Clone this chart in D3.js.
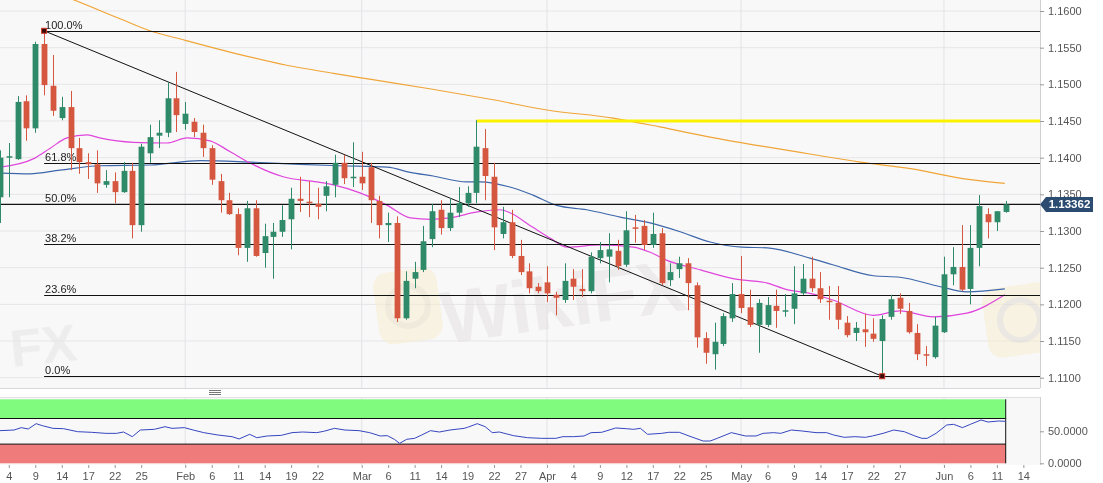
<!DOCTYPE html>
<html><head><meta charset="utf-8">
<script src="https://cdn.jsdelivr.net/npm/d3@7/dist/d3.min.js"></script>
<style>
body{margin:0;background:#fff;}
svg{display:block;font-family:"Liberation Sans",Arial,sans-serif;}
</style>
</head><body>
<svg id="chart" width="1103" height="483"></svg>
<script>
// ---- Data (EUR/USD daily, Jan 3 – Jun 12) ----
const open  = [1.1346,1.1400,1.1398,1.1477,1.1440,1.1555,1.1498,1.1454,1.1469,1.1413,1.1394,1.1391,1.1363,1.1368,1.1353,1.1382,1.1308,1.1406,1.1430,1.1434,1.1481,1.1446,1.1449,1.1434,1.1413,1.1368,1.1342,1.1323,1.1277,1.1331,1.1270,1.1292,1.1299,1.1316,1.1344,1.1340,1.1337,1.1348,1.1363,1.1393,1.1372,1.1374,1.1387,1.1341,1.1308,1.1311,1.1181,1.1235,1.1247,1.1289,1.1329,1.1304,1.1325,1.1338,1.1352,1.1413,1.1374,1.1296,1.1312,1.1266,1.1245,1.1224,1.1230,1.1213,1.1206,1.1235,1.1221,1.1218,1.1263,1.1265,1.1273,1.1254,1.1305,1.1307,1.1281,1.1297,1.1233,1.1248,1.1256,1.1226,1.1154,1.1132,1.1146,1.1181,1.1214,1.1196,1.1172,1.1172,1.1198,1.1191,1.1194,1.1215,1.1235,1.1222,1.1205,1.1202,1.1175,1.1161,1.1166,1.1160,1.1150,1.1183,1.1209,1.1191,1.1161,1.1132,1.1128,1.1162,1.1241,1.1251,1.1221,1.1277,1.1323,1.1312,1.1326];
const high  = [1.1410,1.1420,1.1484,1.1485,1.1558,1.1573,1.1540,1.1483,1.1491,1.1427,1.1406,1.1410,1.1383,1.1380,1.1394,1.1393,1.1419,1.1445,1.1451,1.1503,1.1517,1.1476,1.1454,1.1445,1.1417,1.1378,1.1352,1.1331,1.1341,1.1342,1.1310,1.1311,1.1335,1.1359,1.1374,1.1368,1.1359,1.1368,1.1404,1.1404,1.1421,1.1408,1.1393,1.1348,1.1325,1.1320,1.1245,1.1258,1.1307,1.1337,1.1342,1.1345,1.1360,1.1361,1.1451,1.1439,1.1393,1.1333,1.1329,1.1288,1.1256,1.1229,1.1252,1.1217,1.1256,1.1248,1.1248,1.1271,1.1285,1.1297,1.1288,1.1327,1.1322,1.1315,1.1325,1.1304,1.1256,1.1265,1.1263,1.1230,1.1162,1.1175,1.1188,1.1229,1.1266,1.1220,1.1207,1.1210,1.1220,1.1214,1.1252,1.1255,1.1265,1.1244,1.1225,1.1225,1.1184,1.1176,1.1187,1.1181,1.1185,1.1213,1.1215,1.1202,1.1173,1.1143,1.1183,1.1265,1.1278,1.1308,1.1308,1.1349,1.1331,1.1327,1.1341];
const low   = [1.1311,1.1346,1.1397,1.1423,1.1434,1.1485,1.1457,1.1451,1.1383,1.1378,1.1371,1.1352,1.1359,1.1338,1.1352,1.1290,1.1299,1.1393,1.1413,1.1428,1.1435,1.1438,1.1428,1.1401,1.1363,1.1325,1.1322,1.1267,1.1258,1.1265,1.1250,1.1235,1.1292,1.1275,1.1326,1.1319,1.1316,1.1327,1.1346,1.1364,1.1360,1.1356,1.1311,1.1290,1.1285,1.1176,1.1179,1.1222,1.1244,1.1278,1.1295,1.1300,1.1319,1.1333,1.1338,1.1342,1.1274,1.1290,1.1263,1.1240,1.1215,1.1215,1.1203,1.1185,1.1202,1.1206,1.1210,1.1215,1.1256,1.1230,1.1247,1.1251,1.1284,1.1274,1.1277,1.1226,1.1225,1.1236,1.1192,1.1141,1.1119,1.1111,1.1143,1.1176,1.1188,1.1169,1.1134,1.1169,1.1168,1.1183,1.1173,1.1213,1.1217,1.1202,1.1179,1.1166,1.1155,1.1150,1.1142,1.1149,1.1102,1.1179,1.1187,1.1160,1.1124,1.1116,1.1126,1.1161,1.1226,1.1218,1.1200,1.1252,1.1290,1.1300,1.1325];
const close = [1.1400,1.1402,1.1476,1.1440,1.1555,1.1499,1.1464,1.1469,1.1413,1.1394,1.1391,1.1365,1.1368,1.1353,1.1382,1.1308,1.1415,1.1428,1.1434,1.1481,1.1458,1.1460,1.1435,1.1413,1.1370,1.1342,1.1323,1.1277,1.1331,1.1266,1.1293,1.1299,1.1315,1.1344,1.1341,1.1338,1.1333,1.1361,1.1393,1.1372,1.1374,1.1365,1.1342,1.1308,1.1311,1.1181,1.1232,1.1244,1.1286,1.1327,1.1304,1.1325,1.1338,1.1352,1.1415,1.1375,1.1305,1.1312,1.1266,1.1244,1.1222,1.1218,1.1215,1.1209,1.1232,1.1224,1.1218,1.1265,1.1274,1.1275,1.1252,1.1301,1.1304,1.1281,1.1296,1.1229,1.1244,1.1256,1.1229,1.1155,1.1134,1.1149,1.1184,1.1214,1.1195,1.1172,1.1202,1.1199,1.1191,1.1192,1.1215,1.1235,1.1222,1.1207,1.1203,1.1179,1.1158,1.1168,1.1162,1.1153,1.1180,1.1207,1.1194,1.1162,1.1132,1.1130,1.1171,1.1241,1.1251,1.1220,1.1277,1.1334,1.1312,1.1327,1.13362];

// moving averages: [bar index, price]
const maOrange = [[5,1.1631],[8.4,1.1615],[13.9,1.1588],[17,1.1573],[21,1.1560],[26.4,1.1543],[32.5,1.1526],[37.8,1.1515],[41.9,1.1507],[48.7,1.1494],[55.9,1.1479],[62,1.1465],[69.5,1.1454],[74.8,1.1442],[80.5,1.1428],[86.2,1.1416],[91.8,1.1405],[97.5,1.1394],[103.2,1.1385],[110,1.1370],[113.9,1.1365]];
const maBlue = [[0,1.1379],[3.4,1.1378],[6.8,1.1383],[11.3,1.1389],[17,1.1390],[22.7,1.1396],[28.3,1.1394],[34,1.1391],[38.5,1.1389],[43.9,1.1387],[46.5,1.1380],[49.1,1.1375],[52.9,1.1367],[54.4,1.1367],[57.8,1.1360],[60.4,1.1349],[63.1,1.1335],[66.5,1.1329],[70.3,1.1319],[73.7,1.1311],[77.1,1.1299],[80.5,1.1285],[84.1,1.1278],[87,1.1277],[91.8,1.1263],[94.4,1.1254],[99,1.1239],[102,1.1237],[106.6,1.1224],[109.6,1.1217],[113.9,1.1221]];
const maMagenta = [[0,1.1387],[3.7,1.1398],[5.7,1.1413],[7.6,1.1427],[9.9,1.1431],[11.3,1.1427],[15.1,1.1421],[18.9,1.1420],[21.2,1.1427],[23.8,1.1423],[26.1,1.1408],[28.3,1.1393],[32.1,1.1374],[35.9,1.1367],[37.8,1.1363],[40.8,1.1352],[43.9,1.1335],[46.5,1.1318],[48.8,1.1316],[51,1.1318],[54.1,1.1326],[56.7,1.1329],[57.8,1.1325],[60.4,1.1305],[62.4,1.1290],[64.3,1.1278],[68,1.1281],[71.8,1.1278],[73.7,1.1271],[75.6,1.1260],[79.4,1.1247],[83.1,1.1235],[87,1.1229],[89.2,1.1220],[91.8,1.1215],[94.4,1.1206],[99,1.1185],[102,1.1191],[105.8,1.1183],[109.6,1.1188],[113.9,1.1213]];

// oscillator (lower panel): [bar index, value]
const rsi = [[0,51.0],[1.6,52.0],[2.4,55.7],[3.2,53.6],[4.1,61.9],[4.8,58.8],[6.0,54.6],[7.2,54.1],[8.8,49.4],[10.4,48.4],[12.0,46.8],[13.2,46.8],[14.0,48.9],[15.0,41.6],[15.9,52.0],[17.5,53.1],[18.7,57.2],[19.5,54.6],[20.9,55.7],[21.9,52.0],[23.1,47.9],[24.7,44.2],[26.3,41.6],[27.1,38.0],[28.3,45.3],[29.1,40.0],[30.3,42.7],[31.9,43.7],[33.1,47.9],[34.3,48.9],[35.9,47.9],[36.7,50.0],[37.9,54.6],[39.1,52.0],[40.7,51.0],[41.9,47.9],[43.1,42.7],[43.9,43.2],[44.7,37.5],[45.3,31.2],[46.1,37.5],[47.0,39.0],[47.8,44.2],[48.8,51.0],[49.8,48.9],[51.0,52.0],[52.6,54.6],[53.0,56.2],[54.1,61.9],[55.0,57.2],[55.8,47.9],[56.6,48.9],[58.2,43.2],[59.8,40.0],[61.4,39.0],[63.0,39.0],[63.8,41.6],[65.0,41.6],[66.2,42.7],[67.0,47.9],[68.2,48.4],[68.7,50.5],[69.8,55.2],[71.0,54.1],[71.8,53.1],[72.6,54.6],[73.4,45.3],[75.0,46.8],[75.8,48.4],[77.0,48.4],[78.1,42.7],[79.7,34.8],[80.5,34.8],[81.3,39.0],[82.9,47.9],[84.5,42.7],[85.7,42.7],[86.5,46.8],[87.7,47.9],[88.5,46.8],[89.7,52.0],[90.9,50.5],[92.5,47.9],[93.7,47.9],[94.5,44.2],[95.7,40.6],[96.9,41.6],[98.1,40.6],[98.9,42.7],[100.1,46.8],[101.3,52.0],[102.5,49.4],[103.7,42.7],[104.5,39.0],[105.1,39.0],[106.1,46.8],[107.3,59.8],[108.1,60.9],[109.1,55.7],[110.0,60.9],[111.2,67.7],[112.0,64.5],[113.2,66.1],[114.0,65.6]];

// Fibonacci retracement anchors
const fibHigh = {i:5, p:1.1573};
const fibLow  = {i:100, p:1.1102};
const fibLevels = [1.0, 0.618, 0.5, 0.382, 0.236, 0.0];
const fibLabels = ["100.0%","61.8%","50.0%","38.2%","23.6%","0.0%"];
const resistance = {i:54, p:1.1450};
const lastPrice = 1.13362;

// axis ticks
const priceTicks = [1.11,1.115,1.12,1.125,1.13,1.135,1.14,1.145,1.15,1.155,1.16];
const rsiTicks = [0,50];
const dateTickIdx = [1,4,7,10,13,16,21,24,27,30,33,36,41,44,47,50,53,56,59,62,65,68,71,74,77,80,84,87,90,93,96,99,102,107,110,113,116];
const dateTickLabels = ["4","9","14","17","22","25","Feb","6","11","14","19","22","Mar","6","11","14","19","22","27","Apr","4","9","12","17","22","25","May","6","9","14","17","22","27","Jun","6","11","14"];
const monthIdx = [21,41,62,84,107];

// ---- Layout ----
const W = 1103, plotR = 1040;
const mainTop = 0, mainBot = 388;
const subTop = 397, subBot = 465;

const svg = d3.select("#chart");
const x = d3.scaleLinear().domain([0, 118]).range([0, 1041]);
const y = d3.scaleLinear().domain([1.11, 1.16]).range([377.7, 11]);
const yr = d3.scaleLinear().domain([0, 100]).range([463.3, 399.3]);

const COL_UP = "#2f8a69", COL_DN = "#d6573f";

// backgrounds
svg.append("rect").attr("x",0).attr("y",0).attr("width",W).attr("height",483).attr("fill","#fff");
svg.append("rect").attr("x",0).attr("y",mainTop).attr("width",plotR).attr("height",mainBot-mainTop).attr("fill","#f8f8f9");
svg.append("rect").attr("x",0).attr("y",subTop).attr("width",plotR).attr("height",subBot-subTop).attr("fill","#f8f8f9");

const defs = svg.append("defs");
defs.append("clipPath").attr("id","clipMain").append("rect").attr("x",0).attr("y",mainTop).attr("width",plotR).attr("height",mainBot-mainTop);
defs.append("clipPath").attr("id","clipSub").append("rect").attr("x",0).attr("y",subTop).attr("width",plotR).attr("height",subBot-subTop);

const gMain = svg.append("g").attr("clip-path","url(#clipMain)");
const gSub = svg.append("g").attr("clip-path","url(#clipSub)");

// grid
gMain.selectAll("line.hg").data(priceTicks).join("line")
  .attr("x1",0).attr("x2",plotR).attr("y1",d=>y(d)).attr("y2",d=>y(d))
  .attr("stroke","#e6e6e8").attr("stroke-width",1);
gMain.selectAll("line.vg").data(monthIdx).join("line")
  .attr("x1",d=>x(d)).attr("x2",d=>x(d)).attr("y1",mainTop).attr("y2",mainBot)
  .attr("stroke","#e3e3e6").attr("stroke-width",1);
gSub.selectAll("line.vg").data(monthIdx).join("line")
  .attr("x1",d=>x(d)).attr("x2",d=>x(d)).attr("y1",subTop).attr("y2",subBot)
  .attr("stroke","#e3e3e6").attr("stroke-width",1);

// watermarks
const wm = gMain.append("g").attr("opacity",0.5);
wm.append("rect").attr("x",376).attr("y",270).attr("width",64).attr("height",72).attr("rx",14)
  .attr("fill","#f6ecc8").attr("transform","rotate(-8,408,306)");
wm.append("circle").attr("cx",408).attr("cy",306).attr("r",20).attr("fill","none").attr("stroke","#e8dcc0").attr("stroke-width",6);
wm.append("rect").attr("x",985).attr("y",285).attr("width",70).attr("height",70).attr("rx",14)
  .attr("fill","#f6ecc8").attr("transform","rotate(-8,1020,320)");
wm.append("circle").attr("cx",1020).attr("cy",320).attr("r",20).attr("fill","none").attr("stroke","#ded8cc").attr("stroke-width",6);
wm.append("text").attr("x",440).attr("y",330).attr("font-size",74).attr("font-weight","bold")
  .attr("fill","#e2dede").attr("transform","rotate(-8,540,300)").text("WikiFX");
wm.append("text").attr("x",10).attr("y",364).attr("font-size",52).attr("font-weight","bold")
  .attr("fill","#e2e2e2").attr("transform","rotate(-6,40,345)").text("FX");

// moving averages
const maLine = d3.line().x(d=>x(d[0])).y(d=>y(d[1])).curve(d3.curveMonotoneX);
gMain.append("path").attr("d",maLine(maOrange)).attr("fill","none").attr("stroke","#f0a537").attr("stroke-width",1.2);
gMain.append("path").attr("d",maLine(maBlue)).attr("fill","none").attr("stroke","#3d67aa").attr("stroke-width",1.2);
gMain.append("path").attr("d",maLine(maMagenta)).attr("fill","none").attr("stroke","#e046dc").attr("stroke-width",1.2);

// resistance (yellow)
gMain.append("line").attr("x1",x(resistance.i)).attr("x2",plotR).attr("y1",y(resistance.p)).attr("y2",y(resistance.p))
  .attr("stroke","#fbf200").attr("stroke-width",3);

// fib lines
const fibPrice = fibLevels.map(l => fibLow.p + l*(fibHigh.p - fibLow.p));
gMain.selectAll("line.fib").data(fibPrice).join("line")
  .attr("x1",x(fibHigh.i)).attr("x2",plotR).attr("y1",d=>Math.round(y(d))+0.5).attr("y2",d=>Math.round(y(d))+0.5)
  .attr("stroke","#111").attr("stroke-width",1);
gMain.selectAll("text.fib").data(fibPrice).join("text")
  .attr("x",x(fibHigh.i)+1).attr("y",d=>Math.round(y(d))-2)
  .attr("font-size",11).attr("fill","#222").text((d,i)=>fibLabels[i]);

// last price line
gMain.append("line").attr("x1",0).attr("x2",plotR).attr("y1",y(lastPrice)).attr("y2",y(lastPrice))
  .attr("stroke","#111").attr("stroke-width",1.2);

// trend line
gMain.append("line").attr("x1",x(fibHigh.i)).attr("y1",y(fibHigh.p)).attr("x2",x(fibLow.i)).attr("y2",y(fibLow.p))
  .attr("stroke","#111").attr("stroke-width",1);

// candles
const idx = d3.range(open.length);
const bw = 5.8;
const cg = gMain.append("g");
cg.selectAll("line.wick").data(idx).join("line")
  .attr("x1",i=>Math.round(x(i))+0.5).attr("x2",i=>Math.round(x(i))+0.5)
  .attr("y1",i=>y(high[i])).attr("y2",i=>y(low[i]))
  .attr("stroke",i=>close[i]>=open[i]?COL_UP:COL_DN).attr("stroke-width",1);
cg.selectAll("rect.body").data(idx).join("rect")
  .attr("x",i=>Math.round(x(i))+0.5-bw/2).attr("width",bw)
  .attr("y",i=>y(Math.max(open[i],close[i])))
  .attr("height",i=>Math.max(1.5, Math.abs(y(open[i])-y(close[i]))))
  .attr("fill",i=>close[i]>=open[i]?COL_UP:COL_DN);

// anchor markers
[fibHigh, fibLow].forEach(a=>{
  gMain.append("rect").attr("x",x(a.i)-2.5).attr("y",y(a.p)-2.5).attr("width",5).attr("height",5)
    .attr("fill","#3a0a0a").attr("stroke","#d23a2a").attr("stroke-width",1);
});

// ---- lower panel ----
const lastI = open.length-1;
gSub.append("rect").attr("x",0).attr("y",yr(100)).attr("width",x(lastI)).attr("height",yr(70)-yr(100)).attr("fill","#80fb7e");
gSub.append("rect").attr("x",0).attr("y",yr(30)).attr("width",x(lastI)).attr("height",yr(0)-yr(30)).attr("fill","#ef7b7b");
gSub.append("line").attr("x1",0).attr("x2",x(lastI)).attr("y1",yr(70)).attr("y2",yr(70)).attr("stroke","#111");
gSub.append("line").attr("x1",0).attr("x2",x(lastI)).attr("y1",yr(30)).attr("y2",yr(30)).attr("stroke","#111");
gSub.append("line").attr("x1",x(lastI)).attr("x2",x(lastI)).attr("y1",yr(100)).attr("y2",yr(0)).attr("stroke","#111");
gSub.append("path").attr("d",d3.line().x(d=>x(d[0])).y(d=>yr(d[1]))(rsi))
  .attr("fill","none").attr("stroke","#3545c0").attr("stroke-width",1);

// panel separator handle
[390.5,392.5,394.5].forEach(v=>{
  svg.append("line").attr("x1",209).attr("x2",221).attr("y1",v).attr("y2",v).attr("stroke","#777").attr("stroke-width",1);
});

// ---- axes ----
svg.append("line").attr("x1",plotR+0.5).attr("x2",plotR+0.5).attr("y1",mainTop).attr("y2",mainBot).attr("stroke","#d0d0d4");
svg.append("line").attr("x1",0).attr("x2",plotR).attr("y1",mainBot+0.5).attr("y2",mainBot+0.5).attr("stroke","#d8d8dc");
svg.append("line").attr("x1",plotR+0.5).attr("x2",plotR+0.5).attr("y1",subTop).attr("y2",subBot).attr("stroke","#d0d0d4");
svg.append("line").attr("x1",0).attr("x2",plotR).attr("y1",subTop+0.5).attr("y2",subTop+0.5).attr("stroke","#e0e0e4");

const styleAxis = g => {
  g.select(".domain").remove();
  g.selectAll(".tick line").attr("stroke","#999");
  g.selectAll(".tick text").attr("fill","#555").attr("font-size",11).attr("font-family","Liberation Sans, Arial, sans-serif");
};
svg.append("g").attr("transform",`translate(${plotR},0)`)
  .call(d3.axisRight(y).tickValues(priceTicks).tickFormat(d3.format(".4f")).tickSize(4).tickPadding(4))
  .call(styleAxis);
svg.append("g").attr("transform",`translate(${plotR},0)`)
  .call(d3.axisRight(yr).tickValues(rsiTicks).tickFormat(d3.format(".4f")).tickSize(4).tickPadding(4))
  .call(styleAxis);
svg.append("g").attr("transform",`translate(0,${subBot})`)
  .call(d3.axisBottom(x).tickValues(dateTickIdx).tickFormat((d,i)=>dateTickLabels[i]).tickSize(3).tickPadding(4))
  .call(styleAxis);

// last price tag
const ty = y(lastPrice);
svg.append("path")
  .attr("d",`M${plotR},${ty} L${plotR+6},${ty-7.5} L${plotR+53},${ty-7.5} L${plotR+53},${ty+7.5} L${plotR+6},${ty+7.5} Z`)
  .attr("fill","#2b4b70");
svg.append("text").attr("x",plotR+29.5).attr("y",ty+4).attr("text-anchor","middle")
  .attr("font-size",11.5).attr("font-weight","bold").attr("fill","#fff").text(lastPrice.toFixed(5));
</script>
</body></html>
